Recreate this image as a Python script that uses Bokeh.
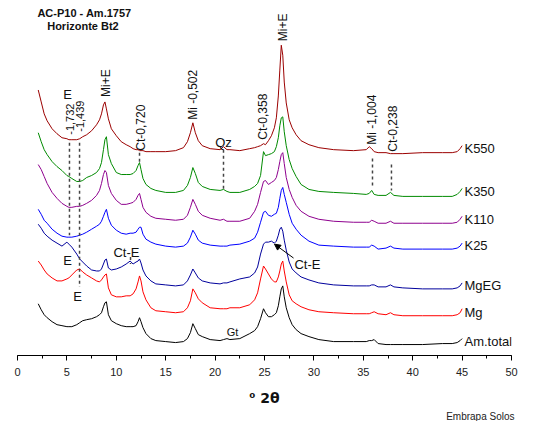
import math
from bokeh.plotting import figure
from bokeh.models import Label, Arrow, NormalHead, SingleIntervalTicker, Range1d, Title
from bokeh.embed import file_html
from bokeh.resources import INLINE

# ---- data (2theta in degrees, stacked intensity, arbitrary units) ----
two_theta = [2.1, 2.4, 2.7, 3.0, 3.5, 4.0, 4.5, 5.0, 5.2, 5.5,
             6.0, 6.3, 6.6, 7.0, 7.5, 8.0, 8.3, 8.5, 8.7, 8.85,
             9.0, 9.2, 9.5, 10.0, 10.5, 11.0, 11.4, 11.7, 12.0, 12.2,
             12.35, 12.5, 12.7, 13.0, 13.5, 14.0, 15.0, 16.0, 16.8, 17.2,
             17.5, 17.75, 18.0, 18.3, 18.7, 19.5, 20.5, 20.85, 21.2, 21.5,
             22.5, 23.5, 24.0, 24.3, 24.6, 24.9, 25.1, 25.4, 25.7, 26.0,
             26.2, 26.4, 26.55, 26.7, 26.85, 27.0, 27.2, 27.5, 27.8, 28.2,
             28.7, 29.5, 30.5, 32.0, 34.0, 35.3, 35.6, 35.85, 36.1, 36.5,
             37.3, 37.75, 38.1, 39.0, 41.0, 43.0, 44.0, 44.5, 44.8, 45.0]

k550 = [267, 255, 243, 236, 228, 223, 219, 218, 217, 217,
        217, 218, 220, 222, 226, 232, 237, 243, 252, 255,
        248, 238, 228, 221, 215, 212, 210, 208, 207, 207,
        206, 206, 206, 205, 205, 205, 205, 206, 209, 215,
        224, 234, 224, 216, 211, 208, 207, 210, 207, 207,
        206, 208, 209, 210, 211, 213, 212, 216, 221, 229,
        239, 261, 287, 312, 302, 275, 254, 237, 229, 222,
        216, 212, 209, 207, 206, 207, 210, 208, 205, 204,
        204, 203, 203, 203, 204, 204, 204, 205, 208, 211]

k350 = [224, 215, 207, 202, 195, 190, 186, 181, 180, 178,
        175, 175, 176, 179, 181, 184, 188, 194, 207, 217,
        220, 202, 193, 184, 182, 182, 182, 183, 186, 191,
        194, 187, 178, 172, 168, 166, 164, 164, 166, 171,
        179, 189, 183, 174, 170, 167, 166, 167, 165, 164,
        164, 167, 170, 173, 181, 205, 201, 202, 203, 205,
        210, 219, 231, 239, 240, 225, 211, 197, 188, 180,
        172, 167, 165, 164, 163, 162, 163, 166, 162, 161,
        161, 164, 161, 160, 160, 160, 160, 162, 165, 168]

k110 = [192, 187, 180, 173, 164, 158, 153, 150, 149, 149,
        150, 150, 151, 153, 156, 161, 166, 173, 182, 186,
        184, 171, 163, 156, 152, 152, 153, 154, 157, 161,
        163, 157, 149, 144, 140, 138, 137, 136, 137, 141,
        149, 157, 152, 145, 141, 138, 136, 137, 135, 135,
        135, 138, 145, 152, 164, 175, 176, 172, 174, 176,
        179, 187, 195, 202, 204, 193, 179, 167, 159, 151,
        145, 140, 137, 135, 134, 134, 134, 136, 135, 133,
        133, 135, 133, 133, 133, 133, 133, 134, 137, 140]

k25 = [147, 142, 136, 133, 127, 123, 120, 119, 119, 119,
       120, 121, 122, 124, 127, 130, 132, 135, 140, 144,
       147, 138, 131, 126, 123, 122, 123, 123, 124, 127,
       129, 129, 122, 117, 114, 112, 110, 109, 110, 113,
       119, 126, 122, 116, 113, 111, 110, 110, 110, 111,
       112, 115, 118, 124, 134, 144, 145, 141, 140, 142,
       143, 149, 158, 166, 169, 162, 154, 142, 133, 127,
       121, 115, 111, 110, 109, 109, 109, 111, 110, 107,
       108, 110, 108, 107, 107, 107, 107, 108, 110, 113]

mgeg = [132, 128, 123, 120, 116, 113, 110, 114, 112, 109,
        102, 97, 94, 90, 86, 85, 85, 87, 92, 96,
        97, 88, 86, 87, 89, 92, 95, 92, 94, 95,
        97, 93, 86, 80, 75, 72, 71, 70, 71, 75,
        81, 87, 83, 78, 75, 73, 72, 73, 73, 74,
        77, 79, 83, 89, 102, 112, 114, 114, 115, 113,
        115, 121, 127, 129, 125, 116, 106, 94, 87, 83,
        79, 76, 73, 71, 70, 70, 70, 71, 71, 69,
        69, 71, 69, 68, 67, 67, 67, 68, 70, 73]

mg = [95, 91, 86, 82, 78, 75, 75, 77, 78, 81,
      86, 87, 84, 81, 78, 75, 74, 76, 79, 81,
      82, 68, 61, 59, 59, 60, 60, 62, 67, 74,
      80, 75, 64, 56, 48, 45, 44, 43, 44, 48,
      55, 67, 63, 57, 53, 48, 47, 47, 47, 48,
      48, 51, 56, 63, 77, 90, 87, 82, 77, 74,
      74, 79, 85, 92, 95, 85, 74, 61, 55, 52,
      49, 46, 44, 43, 42, 42, 42, 43, 44, 42,
      41, 43, 41, 40, 40, 40, 40, 41, 43, 47]

am_total = [52, 46, 41, 38, 34, 31, 30, 29, 29, 29,
            31, 33, 35, 36, 37, 39, 41, 43, 49, 53,
            54, 41, 35, 32, 30, 29, 29, 29, 30, 34,
            38, 34, 28, 22, 17, 15, 14, 13, 14, 17,
            23, 32, 27, 21, 19, 16, 15, 16, 17, 16,
            17, 22, 25, 29, 37, 47, 43, 39, 39, 41,
            43, 50, 59, 67, 70, 59, 48, 38, 31, 26,
            22, 19, 16, 14, 14, 14, 15, 15, 16, 12,
            11, 11, 11, 11, 11, 12, 12, 13, 15, 17]

series_names = ["K550", "K350", "K110", "K25", "MgEG", "Mg", "Am.total"]
series_values = [k550, k350, k110, k25, mgeg, mg, am_total]
series_colors = ["#9B0000", "#008A00", "#8E008E", "#0000FF", "#00009C", "#FF0000", "#000000"]
series_label_y = [208, 165, 137, 111, 70, 43, 14]

# reflection annotations (rotated): text, 2theta, intensity at text base
rot_labels = [("-1,732", 5.31, 222, 11), ("-1,439", 6.33, 225, 11), ("Mi+E", 8.91, 260, 12),
              ("Ct-0,720", 12.45, 206, 12), ("Mi -0,502", 17.81, 237, 12), ("Ct-0,358", 24.80, 217, 12),
              ("Mi+E", 26.92, 316, 12), ("Mi -1,004", 35.93, 212, 12), ("Ct-0,238", 37.96, 205, 12)]
flat_labels = [("E", 5.06, 262, 13), ("Qz", 20.85, 214, 13), ("E", 5.06, 96, 13),
               ("E", 6.07, 59, 13), ("Ct-E", 11.03, 104, 13), ("Ct-E", 29.35, 92, 13), ("Gt", 21.76, 24, 11)]
# dashed marker lines: 2theta, intensity top, intensity bottom
marker_theta = [5.26, 6.28, 12.35, 11.44, 20.85, 35.93, 37.85]
marker_top = [214, 214, 204, 99, 207, 198, 192]
marker_bottom = [121, 69, 194, 92, 167, 169, 166]

FONT = "Liberation Sans"

p = figure(width=536, height=421, x_range=Range1d(0, 50), y_range=Range1d(0, 357),
           output_backend="svg", toolbar_location=None, y_axis_location=None,
           min_border_left=17, min_border_right=25, min_border_top=0, min_border_bottom=64)
p.outline_line_color = None
p.grid.visible = False
p.background_fill_color = "white"
p.border_fill_color = "white"

ax = p.xaxis[0]
ax.ticker = SingleIntervalTicker(interval=5, num_minor_ticks=2)
ax.axis_line_color = "black"
ax.major_tick_in = 0
ax.major_tick_out = 5
ax.minor_tick_in = 0
ax.minor_tick_out = 3
ax.major_tick_line_color = "black"
ax.minor_tick_line_color = "black"
ax.major_label_text_font = FONT
ax.major_label_text_font_size = "11px"
ax.major_label_text_color = "#222222"
ax.major_label_standoff = 7
ax.axis_label = "\u2070 2θ"
ax.axis_label_text_font = "DejaVu Sans"
ax.axis_label_text_font_size = "14px"
ax.axis_label_text_font_style = "bold"
ax.axis_label_text_color = "#111111"
ax.axis_label_standoff = 11

p.add_layout(Title(text="Embrapa Solos", align="right", text_font=FONT, text_font_size="10px",
                   text_font_style="normal", text_color="#222222", standoff=0, offset=-3), "below")

for vals, col in zip(series_values, series_colors):
    p.line(two_theta, vals, line_color=col, line_width=1)

p.segment(x0=marker_theta, y0=marker_top, x1=marker_theta, y1=marker_bottom,
          line_color="#444444", line_width=1.5, line_dash="3 3")

for name, yv in zip(series_names, series_label_y):
    p.add_layout(Label(x=45.24, y=yv, text=name, text_font=FONT, text_font_size="13px",
                       text_color="#111111", text_align="left", text_baseline="middle"))

for txt, xv, yv, fs in rot_labels:
    p.add_layout(Label(x=xv, y=yv, text=txt, angle=math.pi / 2, text_font=FONT,
                       text_font_size=f"{fs}px", text_color="#111111",
                       text_align="left", text_baseline="middle"))

for txt, xv, yv, fs in flat_labels:
    p.add_layout(Label(x=xv, y=yv, text=txt, text_font=FONT, text_font_size=f"{fs}px",
                       text_color="#111111", text_align="center", text_baseline="middle"))

p.add_layout(Arrow(end=NormalHead(size=6, fill_color="black", line_color="black"),
                   x_start=27.94, y_start=98, x_end=26.01, y_end=112,
                   line_color="black", line_width=1))

# titles
p.add_layout(Label(x=6.78, y=344, text="AC-P10 - Am.1757", text_font=FONT, text_font_size="11px",
                   text_font_style="bold", text_color="#111111", text_align="center", text_baseline="middle"))
p.add_layout(Label(x=6.78, y=331, text="Horizonte  Bt2", text_font=FONT, text_font_size="11px",
                   text_font_style="bold", text_color="#111111", text_align="center", text_baseline="middle"))

open("out.html", "w").write(file_html(p, INLINE))
